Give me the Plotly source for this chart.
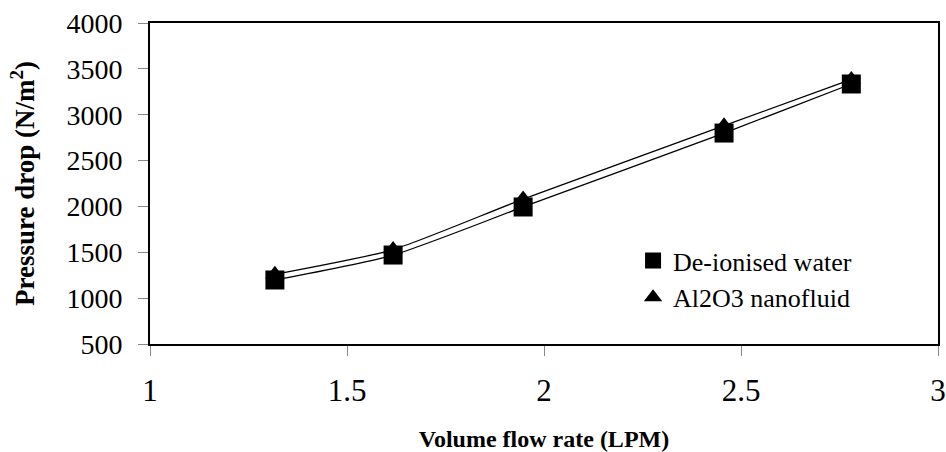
import plotly.graph_objects as go

# Volume flow rate (LPM)
flow_rate = [1.317, 1.617, 1.947, 2.457, 2.78]
# Pressure drop (N/m^2)
water_dp = [1198, 1470, 1994, 2800, 3335]
nano_dp = [1260, 1530, 2080, 2880, 3385]

x_ticks = [1, 1.5, 2, 2.5, 3]
y_ticks = [500, 1000, 1500, 2000, 2500, 3000, 3500, 4000]

serif = "Liberation Serif"

fig = go.Figure()

# smooth curves through each series
curve = dict(color="black", width=1.3, shape="spline", smoothing=0.6)
fig.add_trace(go.Scatter(x=flow_rate, y=nano_dp, mode="lines", line=curve,
                         showlegend=False, hoverinfo="skip"))
fig.add_trace(go.Scatter(x=flow_rate, y=water_dp, mode="lines", line=curve,
                         showlegend=False, hoverinfo="skip"))

# markers (triangles drawn beneath the squares)
fig.add_trace(go.Scatter(x=flow_rate, y=nano_dp, mode="markers", name="Al2O3 nanofluid",
                         marker=dict(symbol="triangle-up", size=17, color="black")))
fig.add_trace(go.Scatter(x=flow_rate, y=water_dp, mode="markers", name="De-ionised water",
                         marker=dict(symbol="square", size=19, color="black")))

fig.update_layout(
    width=946, height=452,
    margin=dict(l=150, r=8, t=23, b=108),
    paper_bgcolor="white", plot_bgcolor="white",
    font=dict(family=serif, color="black", size=27),
    showlegend=True,
    legend=dict(x=0.613, y=0.333, xanchor="left", yanchor="top", traceorder="reversed",
                font=dict(family=serif, size=26), itemwidth=30, tracegroupgap=0,
                bgcolor="rgba(0,0,0,0)"),
    xaxis=dict(range=[1, 3], tickvals=x_ticks, ticktext=[str(v) for v in x_ticks],
               automargin=False,
               showgrid=False, zeroline=False, showline=True, linecolor="black", linewidth=2, mirror=True,
               ticks="outside", ticklen=10, tickcolor="#888", tickwidth=1,
               ticklabelstandoff=8,
               tickfont=dict(family=serif, size=31),
               title=dict(text="<b>Volume flow rate (LPM)</b>", font=dict(family=serif, size=24), standoff=24)),
    yaxis=dict(range=[500, 4000], tickvals=y_ticks,
               automargin=False,
               showgrid=False, zeroline=False, showline=True, linecolor="black", linewidth=2, mirror=True,
               ticks="outside", ticklen=10, tickcolor="#888", tickwidth=1,
               ticklabelstandoff=10,
               tickfont=dict(family=serif, size=28),
               title=dict(text="<b>Pressure drop (N/m<sup>2</sup>)</b>", font=dict(family=serif, size=27), standoff=24)),
)

fig.write_html("out.html")
